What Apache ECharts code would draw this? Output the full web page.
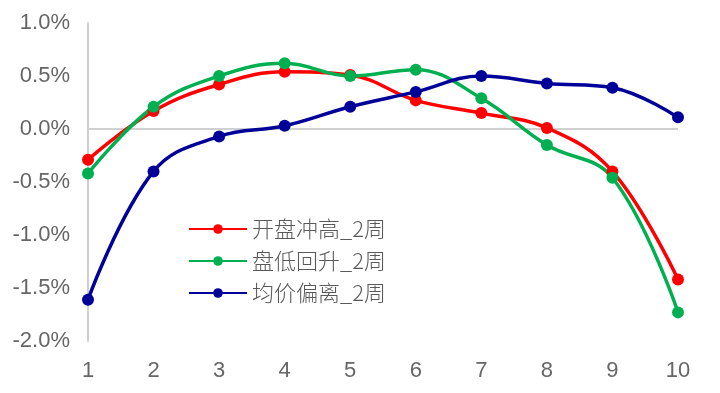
<!DOCTYPE html>
<html><head><meta charset="utf-8">
<script src="https://cdn.jsdelivr.net/npm/echarts@6/dist/echarts.min.js"></script>
<style>html,body{margin:0;padding:0;background:#fff}#c{width:720px;height:393px}</style>
</head><body><div id="c"></div>
<script>
var categories = ['1','2','3','4','5','6','7','8','9','10'];
var seriesNames = ['开盘冲高_2周','盘低回升_2周','均价偏离_2周'];
var openHigh = [-0.29, 0.17, 0.42, 0.54, 0.51, 0.27, 0.15, 0.01, -0.40, -1.42];
var lowRebound = [-0.42, 0.21, 0.50, 0.62, 0.50, 0.56, 0.29, -0.15, -0.46, -1.73];
var avgDeviation = [-1.61, -0.40, -0.07, 0.03, 0.21, 0.35, 0.50, 0.43, 0.39, 0.11];
var colors = ['#ff0000', '#00b050', '#000099'];

var chart = echarts.init(document.getElementById('c'));
var font = '"Liberation Sans", Arial, sans-serif';
function mk(name, data, color, withZero) {
  var s = {
    name: name, type: 'line', data: data, smooth: 0.4,
    symbol: 'circle', symbolSize: 12,
    lineStyle: {width: 3.5, color: color},
    itemStyle: {color: color},
    z: 3
  };
  if (withZero) {
    s.markLine = {silent: true, symbol: 'none', label: {show: false},
      lineStyle: {color: '#d0d0d0', width: 2, type: 'solid'},
      data: [{yAxis: 0}], z: 1};
  }
  return s;
}
chart.setOption({
  animation: false,
  color: colors,
  grid: {left: 88, right: 42, top: 23, bottom: 52},
  legend: {
    orient: 'vertical', left: 183, top: 213,
    itemWidth: 58, itemHeight: 12, itemGap: 10,
    textStyle: {fontSize: 22, color: '#595959', fontFamily: '"Noto Sans CJK SC", sans-serif', fontWeight: 300},
    data: seriesNames
  },
  xAxis: {
    type: 'category', data: categories, boundaryGap: false,
    axisLine: {show: false, onZero: false},
    axisTick: {show: false},
    axisLabel: {fontSize: 22, color: '#666666', margin: 19, fontFamily: font}
  },
  yAxis: {
    type: 'value', min: -2.0, max: 1.0, interval: 0.5,
    axisLine: {show: true, lineStyle: {color: '#d0d0d0', width: 2}},
    axisTick: {show: false},
    splitLine: {show: false},
    axisLabel: {fontSize: 22, color: '#666666', margin: 18, fontFamily: font,
      formatter: function (v) { return v.toFixed(1) + '%'; }}
  },
  series: [
    mk(seriesNames[0], openHigh, colors[0], true),
    mk(seriesNames[1], lowRebound, colors[1], false),
    mk(seriesNames[2], avgDeviation, colors[2], false)
  ]
});
</script></body></html>
